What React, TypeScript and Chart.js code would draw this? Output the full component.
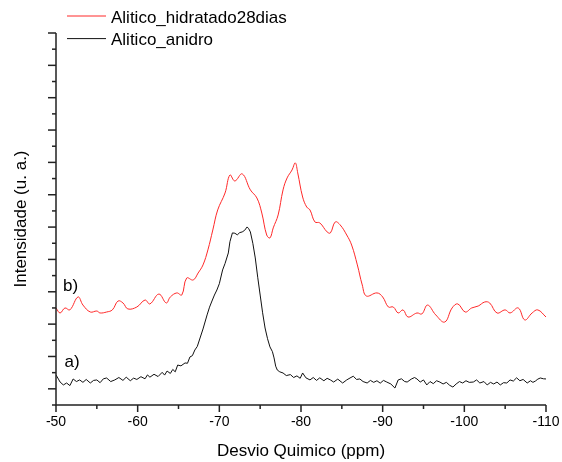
import { useEffect, useRef } from 'react';
import { Chart, registerables } from 'chart.js';

Chart.register(...registerables);

const FONT = '"Liberation Sans", Arial, sans-serif';

const seriesLabels = ['Alitico_hidratado28dias', 'Alitico_anidro'];
const seriesColors = ['rgb(255,40,40)', '#111111'];

const hidrPpm = [
  -50.0, -50.5, -51.1, -51.7, -52.7, -53.3, -54.2, -55.0, -55.4, -56.2, -56.9, -57.6, -58.2, -58.8,
  -59.9, -60.9, -61.5, -62.6, -63.5, -64.0, -64.8, -65.4, -66.0, -66.8, -67.4, -68.0, -68.6, -69.2,
  -69.8, -70.7, -71.3, -71.9, -72.8, -73.8, -74.6, -75.2, -75.8, -76.2, -76.6, -77.2, -77.8, -78.3,
  -78.9, -79.3, -79.6, -80.2, -80.7, -81.1, -81.7, -82.3, -83.2, -83.6, -84.2, -84.8, -85.6, -86.2,
  -86.9, -87.5, -88.0, -89.3, -90.0, -90.7, -91.3, -91.9, -92.5, -93.1, -94.2, -94.8, -95.5, -96.5,
  -97.6, -98.5, -99.2, -100.1, -100.9, -101.7, -102.5, -103.1, -104.0, -105.0, -105.6, -106.6, -107.4,
  -108.3, -109.0, -110.0,
];
const hidrInt = [
  6.00, 5.69, 6.00, 5.88, 6.68, 6.18, 5.75, 5.81, 5.69, 5.75, 5.88, 6.43, 6.31, 5.94,
  6.06, 6.49, 6.25, 6.86, 6.31, 6.68, 6.93, 6.80, 7.85, 7.73, 8.16, 8.66, 9.59, 10.82,
  12.06, 13.11, 14.22, 13.85, 14.29, 13.30, 12.80, 11.87, 10.51, 10.33, 10.95, 11.75, 13.30, 14.04,
  14.53, 14.97, 14.35, 12.86, 12.24, 12.06, 11.32, 11.26, 10.70, 10.64, 11.32, 11.13, 10.51, 9.89,
  8.66, 7.42, 6.74, 6.93, 6.68, 6.06, 6.06, 5.69, 5.88, 5.44, 5.69, 5.63, 6.18, 5.57,
  5.13, 6.00, 6.25, 5.75, 6.00, 6.12, 6.37, 6.31, 5.69, 5.88, 5.69, 6.00, 5.26,
  5.69, 5.88, 5.44,
];

const anidroPpm = [
  -50.0, -50.3, -50.5, -50.9, -51.3, -51.7, -52.1, -52.5, -52.9, -53.3, -53.7, -54.2, -54.6, -55.0,
  -55.4, -55.8, -56.2, -56.7, -57.2, -57.7, -58.2, -58.6, -59.1, -59.5, -59.9, -60.4, -60.9, -61.2,
  -61.5, -62.0, -62.5, -63.0, -63.3, -63.6, -64.0, -64.3, -64.6, -64.9, -65.3, -65.8, -66.1, -66.4,
  -66.7, -67.0, -67.3, -67.6, -68.0, -68.5, -68.8, -69.1, -69.4, -69.7, -70.0, -70.4, -70.7, -71.1,
  -71.3, -71.6, -71.9, -72.2, -72.5, -72.8, -73.1, -73.4, -73.6, -73.8, -74.1, -74.4, -74.7, -75.0,
  -75.3, -75.6, -75.9, -76.2, -76.5, -76.7, -76.9, -77.1, -77.4, -77.8, -78.2, -78.7, -79.1, -79.5,
  -79.9, -80.2, -80.6, -81.1, -81.5, -81.9, -82.3, -82.8, -83.2, -83.6, -84.0, -84.5, -85.1, -85.6,
  -86.0, -86.4, -86.8, -87.2, -87.6, -88.1, -88.5, -88.9, -89.3, -89.7, -90.1, -90.5, -91.0, -91.5,
  -91.9, -92.3, -92.7, -93.0, -93.5, -93.9, -94.2, -94.6, -95.0, -95.4, -95.8, -96.2, -96.6, -97.0,
  -97.4, -97.8, -98.2, -98.6, -99.0, -99.4, -99.8, -100.2, -100.6, -101.1, -101.5, -101.9, -102.4,
  -102.8, -103.2, -103.6, -104.0, -104.4, -104.8, -105.2, -105.6, -106.0, -106.4, -106.8, -107.2,
  -107.7, -108.1, -108.4, -108.7, -109.0, -109.3, -109.7, -110.0,
];
const anidroInt = [
  1.86, 1.60, 1.42, 1.24, 1.36, 1.20, 1.61, 1.45, 1.55, 1.40, 1.58, 1.36, 1.52, 1.55,
  1.38, 1.62, 1.67, 1.45, 1.55, 1.70, 1.52, 1.72, 1.50, 1.66, 1.58, 1.75, 1.62, 1.86,
  1.72, 1.90, 1.76, 2.02, 1.85, 2.10, 1.95, 2.20, 2.05, 2.47, 2.42, 2.60, 2.58, 2.97,
  3.05, 3.40, 3.62, 4.08, 4.70, 5.57, 6.05, 6.43, 6.80, 7.11, 7.50, 8.35, 8.75, 9.40,
  10.10, 10.64, 10.62, 10.52, 10.66, 10.70, 10.80, 11.01, 10.90, 10.70, 10.00, 9.09, 7.90, 6.80,
  5.70, 4.76, 4.10, 3.59, 3.30, 2.91, 2.40, 2.16, 2.05, 1.98, 1.82, 1.88, 1.70, 1.80,
  1.65, 1.98, 1.68, 1.55, 1.70, 1.52, 1.68, 1.50, 1.65, 1.55, 1.42, 1.60, 1.36, 1.55,
  1.67, 1.78, 1.58, 1.61, 1.45, 1.36, 1.52, 1.40, 1.50, 1.35, 1.52, 1.42, 1.30, 1.05,
  1.55, 1.62, 1.45, 1.42, 1.60, 1.70, 1.61, 1.42, 1.55, 1.24, 1.45, 1.32, 1.50, 1.42,
  1.30, 1.40, 1.22, 1.11, 1.30, 1.45, 1.36, 1.50, 1.40, 1.42, 1.55, 1.36, 1.45,
  1.24, 1.40, 1.30, 1.42, 1.24, 1.38, 1.36, 1.55, 1.48, 1.68, 1.50, 1.58,
  1.36, 1.50, 1.40, 1.48, 1.60, 1.67, 1.62, 1.61,
];

const xMin = -110;
const xMax = -50;
const xMajorStep = 10;
const xMinorStep = 5;
const yMin = 0;
const yMax = 23;

const curveLabels = [
  { text: 'b)', x: -50.85, y: 7.36 },
  { text: 'a)', x: -51.05, y: 2.66 },
];

const decorPlugin = {
  id: 'decor',
  afterDraw(chart: any) {
    const { ctx, chartArea } = chart;
    const xs = chart.scales.x;
    const ys = chart.scales.y;
    ctx.save();
    ctx.strokeStyle = '#222';
    ctx.lineWidth = 1.5;
    ctx.beginPath();
    ctx.moveTo(chartArea.left, chartArea.top);
    ctx.lineTo(chartArea.left, chartArea.bottom);
    ctx.lineTo(chartArea.right, chartArea.bottom);
    ctx.stroke();
    for (let v = yMin; v <= yMax; v++) {
      const py = ys.getPixelForValue(v);
      const len = (yMax - v) % 2 === 0 ? 8 : 4;
      ctx.beginPath();
      ctx.moveTo(chartArea.left - len, py);
      ctx.lineTo(chartArea.left, py);
      ctx.stroke();
    }
    for (let v = xMax; v >= xMin; v -= xMinorStep) {
      const px = xs.getPixelForValue(v);
      const len = v % xMajorStep === 0 ? 7 : 4;
      ctx.beginPath();
      ctx.moveTo(px, chartArea.bottom);
      ctx.lineTo(px, chartArea.bottom + len);
      ctx.stroke();
    }
    ctx.font = `17px ${FONT}`;
    ctx.fillStyle = '#000';
    ctx.textBaseline = 'alphabetic';
    ctx.textAlign = 'left';
    chart.data.datasets.forEach((ds: any, i: number) => {
      const ly = 16 + i * 22.6;
      ctx.strokeStyle = ds.borderColor;
      ctx.lineWidth = 1;
      ctx.beginPath();
      ctx.moveTo(67, ly);
      ctx.lineTo(106, ly);
      ctx.stroke();
      ctx.fillText(ds.label, 111, ly + 6.5);
    });
    ctx.textBaseline = 'middle';
    curveLabels.forEach((c) => {
      ctx.fillText(c.text, xs.getPixelForValue(c.x), ys.getPixelForValue(c.y));
    });
    ctx.restore();
  },
};

export default function App() {
  const ref = useRef<HTMLCanvasElement | null>(null);
  useEffect(() => {
    document.body.style.margin = '0';
    if (!ref.current) return;
    const chart = new Chart(ref.current, {
      type: 'line',
      data: {
        datasets: [
          {
            label: seriesLabels[0],
            data: hidrPpm.map((x, i) => ({ x, y: hidrInt[i] })),
            borderColor: seriesColors[0],
            borderWidth: 1,
            pointRadius: 0,
            tension: 0.4,
            fill: false,
          },
          {
            label: seriesLabels[1],
            data: anidroPpm.map((x, i) => ({ x, y: anidroInt[i] })),
            borderColor: seriesColors[1],
            borderWidth: 1,
            pointRadius: 0,
            tension: 0,
            fill: false,
          },
        ],
      },
      options: {
        animation: false,
        responsive: false,
        layout: { padding: { top: 33, right: 16, left: 0, bottom: 0 } },
        plugins: { legend: { display: false }, tooltip: { enabled: false } },
        scales: {
          x: {
            type: 'linear',
            min: xMin,
            max: xMax,
            reverse: true,
            grid: { display: false, drawTicks: false },
            border: { display: false },
            ticks: {
              stepSize: xMajorStep,
              autoSkip: false,
              maxRotation: 0,
              padding: 9,
              color: '#000',
              font: { family: FONT, size: 14 },
            },
            title: {
              display: true,
              text: 'Desvio Quimico (ppm)',
              color: '#000',
              font: { family: FONT, size: 17 },
              padding: { top: 0, bottom: 0 },
            },
            afterFit: (s: any) => {
              s.height = 57;
              s.paddingLeft = 0;
              s.paddingRight = 0;
            },
          },
          y: {
            type: 'linear',
            min: yMin,
            max: yMax,
            grid: { display: false, drawTicks: false },
            border: { display: false },
            ticks: { display: false },
            title: {
              display: true,
              text: 'Intensidade (u. a.)',
              color: '#000',
              font: { family: FONT, size: 17 },
              padding: { top: 11, bottom: 0 },
            },
            afterFit: (s: any) => {
              s.width = 56;
              s.paddingTop = 0;
              s.paddingBottom = 0;
            },
          },
        },
      },
      plugins: [decorPlugin],
    } as any);
    return () => chart.destroy();
  }, []);
  return (
    <div style={{ width: 562, height: 462 }}>
      <canvas ref={ref} width={562} height={462} style={{ display: 'block' }} />
    </div>
  );
}
